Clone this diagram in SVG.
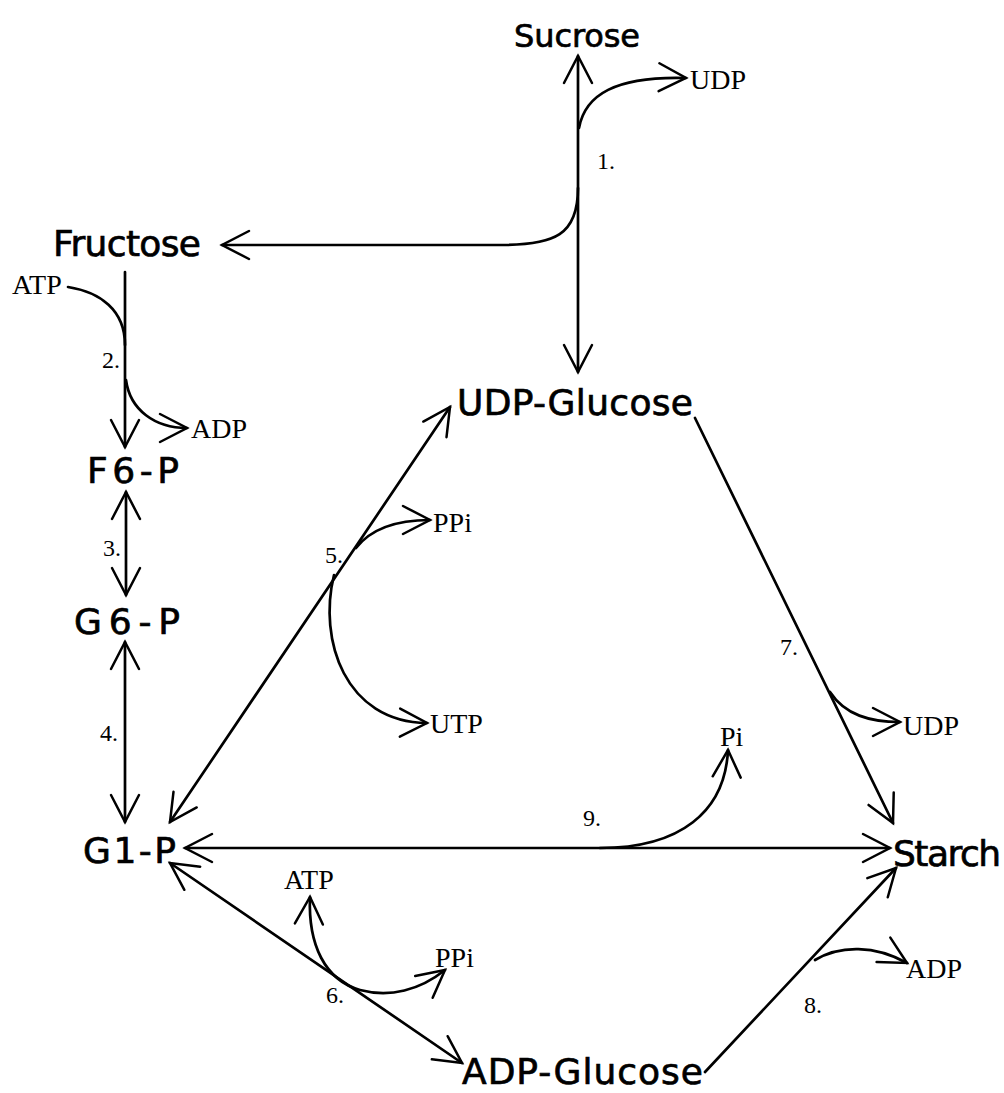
<svg xmlns="http://www.w3.org/2000/svg" width="1004" height="1093" viewBox="0 0 1004 1093">
<style>
.big{font-family:"DejaVu Sans","Liberation Sans",sans-serif;font-size:36px;fill:#000;stroke:#000;stroke-width:0.7}
.sm{font-family:"Liberation Serif","Times New Roman",serif;font-size:28px;fill:#000}
.num{font-family:"Liberation Serif","Times New Roman",serif;font-size:24px;fill:#000}
.ln{fill:none;stroke:#000;stroke-width:2.7;stroke-linecap:round}
</style>
<defs>
<marker id="ah" markerUnits="userSpaceOnUse" viewBox="-32 -18 36 36" refX="0" refY="0" markerWidth="36" markerHeight="36" orient="auto-start-reverse">
<path d="M-27,-14 L0,0 L-27,14" fill="none" stroke="#000" stroke-width="2.5" stroke-linecap="round"/>
</marker>
</defs>
<rect width="1004" height="1093" fill="#fff"/>
<g id="connectors">
<path class="ln" d="M578,56 L578,372" marker-start="url(#ah)" marker-end="url(#ah)"/>
<path class="ln" d="M579,128 C585,95 615,76 686,78" marker-end="url(#ah)"/>
<path class="ln" d="M578,188 C578,235 555,245 500,245 L222,245" marker-end="url(#ah)"/>
<path class="ln" d="M125,272 L125,447" marker-end="url(#ah)"/>
<path class="ln" d="M68,287 C100,292 125,310 125,345"/>
<path class="ln" d="M126,380 C130,410 155,428 187,428" marker-end="url(#ah)"/>
<path class="ln" d="M126,492 L126,595" marker-start="url(#ah)" marker-end="url(#ah)"/>
<path class="ln" d="M125,642 L125,822" marker-start="url(#ah)" marker-end="url(#ah)"/>
<path class="ln" d="M170,822 L450,407" marker-start="url(#ah)" marker-end="url(#ah)"/>
<path class="ln" d="M356,548 C370,530 395,520 430,520" marker-end="url(#ah)"/>
<path class="ln" d="M334,575 C318,640 345,722 427,723" marker-end="url(#ah)"/>
<path class="ln" d="M170,863 L462,1063" marker-start="url(#ah)" marker-end="url(#ah)"/>
<path class="ln" d="M310,897 C308,945 325,980 360,990 C390,998 420,990 445,970" marker-start="url(#ah)" marker-end="url(#ah)"/>
<path class="ln" d="M695,418 L893,823" marker-end="url(#ah)"/>
<path class="ln" d="M830,692 C845,715 870,722 900,722" marker-end="url(#ah)"/>
<path class="ln" d="M705,1072 L896,868" marker-end="url(#ah)"/>
<path class="ln" d="M815,960 C840,945 875,945 907,963" marker-end="url(#ah)"/>
<path class="ln" d="M185,848 L890,848" marker-start="url(#ah)" marker-end="url(#ah)"/>
<path class="ln" d="M600,848 C680,848 725,812 728,750" marker-end="url(#ah)"/>
</g>
<g id="sucrose"><text class="big" x="514" y="47" style="font-size:32px" textLength="126">Sucrose</text></g>
<g id="fructose"><text class="big" x="53" y="256" textLength="148">Fructose</text></g>
<g id="f6p"><text class="big" x="87" y="483" textLength="92">F6-P</text></g>
<g id="g6p"><text class="big" x="74" y="634" textLength="106">G6-P</text></g>
<g id="g1p"><text class="big" x="83" y="863" textLength="93">G1-P</text></g>
<g id="udpglucose"><text class="big" x="457" y="415" textLength="236">UDP-Glucose</text></g>
<g id="starch"><text class="big" x="893" y="866" textLength="108">Starch</text></g>
<g id="adpglucose"><text class="big" x="462" y="1084" textLength="241">ADP-Glucose</text></g>
<g id="cofactors">
<text class="sm" x="690" y="89">UDP</text>
<text class="sm" x="12" y="294">ATP</text>
<text class="sm" x="191" y="438">ADP</text>
<text class="sm" x="433" y="532">PPi</text>
<text class="sm" x="430" y="733">UTP</text>
<text class="sm" x="903" y="735">UDP</text>
<text class="sm" x="720" y="746">Pi</text>
<text class="sm" x="284" y="889">ATP</text>
<text class="sm" x="435" y="967">PPi</text>
<text class="sm" x="906" y="978">ADP</text>
</g>
<g id="numbers">
<text class="num" x="597" y="169">1.</text>
<text class="num" x="102" y="368">2.</text>
<text class="num" x="103" y="556">3.</text>
<text class="num" x="100" y="741">4.</text>
<text class="num" x="325" y="563">5.</text>
<text class="num" x="326" y="1003">6.</text>
<text class="num" x="780" y="655">7.</text>
<text class="num" x="804" y="1013">8.</text>
<text class="num" x="583" y="826">9.</text>
</g>
</svg>
